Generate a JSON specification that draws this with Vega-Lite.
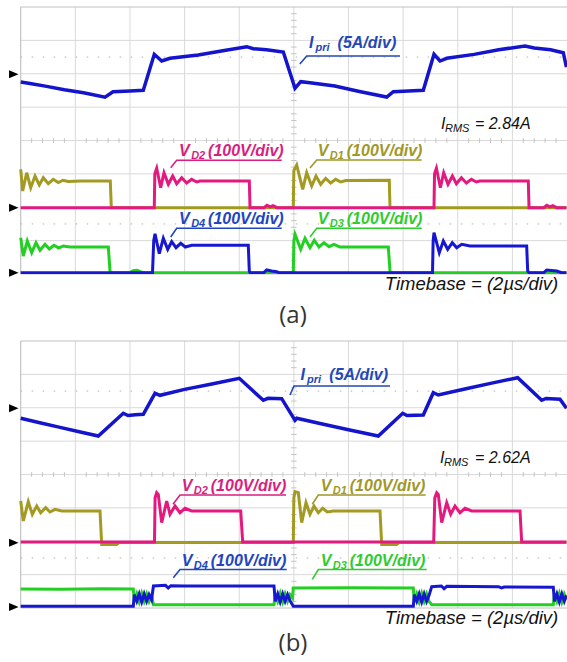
{
"$schema": "https://vega.github.io/schema/vega-lite/v6.json",
"padding": {"left": 0, "top": 6, "right": 0, "bottom": 0},
"autosize": {"type": "pad"},
"spacing": 67,
"bounds": "flush",
"background": "white",
"config": {"view": {"stroke": null}},
"datasets": {
"gx": [{"v":2},{"v":4},{"v":6},{"v":8},{"v":10},{"v":12},{"v":14},{"v":16},{"v":18}],
"gy": [{"v":1},{"v":2},{"v":3},{"v":4},{"v":5},{"v":6},{"v":7}],
"fx": [{"v":0}],
"fy": [{"v":0},{"v":8}],
"dt": [{"v":1.5},{"v":6.5}],
"tx": [{"v":0.4},{"v":0.8},{"v":1.2},{"v":1.6},{"v":2.4},{"v":2.8},{"v":3.2},{"v":3.6},{"v":4.4},{"v":4.8},{"v":5.2},{"v":5.6},{"v":6.4},{"v":6.8},{"v":7.2},{"v":7.6},{"v":8.4},{"v":8.8},{"v":9.2},{"v":9.6},{"v":10.4},{"v":10.8},{"v":11.2},{"v":11.6},{"v":12.4},{"v":12.8},{"v":13.2},{"v":13.6},{"v":14.4},{"v":14.8},{"v":15.2},{"v":15.6},{"v":16.4},{"v":16.8},{"v":17.2},{"v":17.6},{"v":18.4},{"v":18.8},{"v":19.2},{"v":19.6}],
"ty": [{"v":0.2},{"v":0.4},{"v":0.6},{"v":0.8},{"v":1.2},{"v":1.4},{"v":1.6},{"v":1.8},{"v":2.2},{"v":2.4},{"v":2.6},{"v":2.8},{"v":3.2},{"v":3.4},{"v":3.6},{"v":3.8},{"v":4.2},{"v":4.4},{"v":4.6},{"v":4.8},{"v":5.2},{"v":5.4},{"v":5.6},{"v":5.8},{"v":6.2},{"v":6.4},{"v":6.6},{"v":6.8},{"v":7.2},{"v":7.4},{"v":7.6},{"v":7.8}],
"ar": [{"p":"a","x":-0.253,"y":5.984},{"p":"a","x":-0.253,"y":1.987},{"p":"a","x":-0.253,"y":0.039},{"p":"b","x":-0.253,"y":5.984},{"p":"b","x":-0.253,"y":1.957},{"p":"b","x":-0.253,"y":0.03}],
"tr": [
{"p":"a","s":"Ipri","x":0,"y":5.75},{"p":"a","s":"Ipri","x":0.34,"y":5.71},{"p":"a","s":"Ipri","x":0.9,"y":5.63},{"p":"a","s":"Ipri","x":1.6,"y":5.52},{"p":"a","s":"Ipri","x":2.3,"y":5.43},{"p":"a","s":"Ipri","x":3.086,"y":5.3},{"p":"a","s":"Ipri","x":3.379,"y":5.46},{"p":"a","s":"Ipri","x":4.0,"y":5.48},{"p":"a","s":"Ipri","x":4.488,"y":5.504},{"p":"a","s":"Ipri","x":4.891,"y":6.583},{"p":"a","s":"Ipri","x":5.162,"y":6.382},{"p":"a","s":"Ipri","x":5.466,"y":6.463},{"p":"a","s":"Ipri","x":6.5,"y":6.56},{"p":"a","s":"Ipri","x":7.4,"y":6.69},{"p":"a","s":"Ipri","x":8.274,"y":6.811},{"p":"a","s":"Ipri","x":8.515,"y":6.751},{"p":"a","s":"Ipri","x":9.0,"y":6.72},{"p":"a","s":"Ipri","x":9.614,"y":6.652},{"p":"a","s":"Ipri","x":10.042,"y":5.564},{"p":"a","s":"Ipri","x":10.251,"y":5.762},{"p":"a","s":"Ipri","x":10.591,"y":5.732},{"p":"a","s":"Ipri","x":11.5,"y":5.63},{"p":"a","s":"Ipri","x":12.4,"y":5.47},{"p":"a","s":"Ipri","x":13.399,"y":5.303},{"p":"a","s":"Ipri","x":13.641,"y":5.462},{"p":"a","s":"Ipri","x":14.2,"y":5.48},{"p":"a","s":"Ipri","x":14.739,"y":5.504},{"p":"a","s":"Ipri","x":15.131,"y":6.583},{"p":"a","s":"Ipri","x":15.351,"y":6.382},{"p":"a","s":"Ipri","x":15.596,"y":6.463},{"p":"a","s":"Ipri","x":16.6,"y":6.58},{"p":"a","s":"Ipri","x":17.5,"y":6.72},{"p":"a","s":"Ipri","x":18.462,"y":6.831},{"p":"a","s":"Ipri","x":18.8,"y":6.77},{"p":"a","s":"Ipri","x":19.4,"y":6.72},{"p":"a","s":"Ipri","x":19.864,"y":6.631},{"p":"a","s":"Ipri","x":19.98,"y":6.2},
{"p":"a","s":"VD1","x":0,"y":3.137},{"p":"a","s":"VD1","x":0.073,"y":2.487},{"p":"a","s":"VD1","x":0.22,"y":3.035},{"p":"a","s":"VD1","x":0.366,"y":2.586},{"p":"a","s":"VD1","x":0.524,"y":2.936},{"p":"a","s":"VD1","x":0.681,"y":2.667},{"p":"a","s":"VD1","x":0.827,"y":2.885},{"p":"a","s":"VD1","x":1.01,"y":2.706},{"p":"a","s":"VD1","x":1.193,"y":2.837},{"p":"a","s":"VD1","x":1.377,"y":2.742},{"p":"a","s":"VD1","x":1.549,"y":2.81},{"p":"a","s":"VD1","x":1.732,"y":2.772},{"p":"a","s":"VD1","x":2.2,"y":2.79},{"p":"a","s":"VD1","x":3.28,"y":2.787},{"p":"a","s":"VD1","x":3.317,"y":1.987},{"p":"a","s":"VD1","x":9.98,"y":1.987},{"p":"a","s":"VD1","x":10.0,"y":3.1},{"p":"a","s":"VD1","x":10.104,"y":3.266},{"p":"a","s":"VD1","x":10.324,"y":2.538},{"p":"a","s":"VD1","x":10.47,"y":3.035},{"p":"a","s":"VD1","x":10.653,"y":2.637},{"p":"a","s":"VD1","x":10.811,"y":2.936},{"p":"a","s":"VD1","x":10.983,"y":2.688},{"p":"a","s":"VD1","x":11.166,"y":2.867},{"p":"a","s":"VD1","x":11.349,"y":2.727},{"p":"a","s":"VD1","x":11.532,"y":2.837},{"p":"a","s":"VD1","x":11.715,"y":2.757},{"p":"a","s":"VD1","x":11.9,"y":2.8},{"p":"a","s":"VD1","x":13.494,"y":2.807},{"p":"a","s":"VD1","x":13.52,"y":1.987},{"p":"a","s":"VD1","x":19.98,"y":1.987},
{"p":"a","s":"VD2","x":0,"y":1.987},{"p":"a","s":"VD2","x":4.89,"y":1.987},{"p":"a","s":"VD2","x":4.91,"y":3.0},{"p":"a","s":"VD2","x":4.979,"y":3.167},{"p":"a","s":"VD2","x":5.125,"y":2.586},{"p":"a","s":"VD2","x":5.246,"y":3.035},{"p":"a","s":"VD2","x":5.404,"y":2.688},{"p":"a","s":"VD2","x":5.565,"y":2.936},{"p":"a","s":"VD2","x":5.711,"y":2.706},{"p":"a","s":"VD2","x":5.894,"y":2.885},{"p":"a","s":"VD2","x":6.077,"y":2.727},{"p":"a","s":"VD2","x":6.26,"y":2.837},{"p":"a","s":"VD2","x":6.443,"y":2.757},{"p":"a","s":"VD2","x":6.564,"y":2.787},{"p":"a","s":"VD2","x":8.369,"y":2.787},{"p":"a","s":"VD2","x":8.395,"y":1.987},{"p":"a","s":"VD2","x":8.907,"y":1.987},{"p":"a","s":"VD2","x":9.017,"y":2.06},{"p":"a","s":"VD2","x":9.127,"y":2.01},{"p":"a","s":"VD2","x":9.237,"y":2.05},{"p":"a","s":"VD2","x":9.383,"y":1.987},{"p":"a","s":"VD2","x":15.131,"y":1.987},{"p":"a","s":"VD2","x":15.15,"y":3.0},{"p":"a","s":"VD2","x":15.219,"y":3.167},{"p":"a","s":"VD2","x":15.365,"y":2.586},{"p":"a","s":"VD2","x":15.486,"y":3.035},{"p":"a","s":"VD2","x":15.644,"y":2.688},{"p":"a","s":"VD2","x":15.805,"y":2.936},{"p":"a","s":"VD2","x":15.951,"y":2.706},{"p":"a","s":"VD2","x":16.134,"y":2.885},{"p":"a","s":"VD2","x":16.317,"y":2.727},{"p":"a","s":"VD2","x":16.5,"y":2.837},{"p":"a","s":"VD2","x":16.683,"y":2.757},{"p":"a","s":"VD2","x":16.804,"y":2.787},{"p":"a","s":"VD2","x":18.583,"y":2.787},{"p":"a","s":"VD2","x":18.61,"y":1.987},{"p":"a","s":"VD2","x":19.15,"y":1.987},{"p":"a","s":"VD2","x":19.26,"y":2.06},{"p":"a","s":"VD2","x":19.37,"y":2.01},{"p":"a","s":"VD2","x":19.48,"y":2.05},{"p":"a","s":"VD2","x":19.62,"y":1.987},{"p":"a","s":"VD2","x":19.98,"y":1.987},
{"p":"a","s":"VD3","x":0,"y":1.088},{"p":"a","s":"VD3","x":0.095,"y":0.539},{"p":"a","s":"VD3","x":0.242,"y":0.989},{"p":"a","s":"VD3","x":0.403,"y":0.638},{"p":"a","s":"VD3","x":0.56,"y":0.938},{"p":"a","s":"VD3","x":0.707,"y":0.71},{"p":"a","s":"VD3","x":0.89,"y":0.89},{"p":"a","s":"VD3","x":1.047,"y":0.749},{"p":"a","s":"VD3","x":1.219,"y":0.86},{"p":"a","s":"VD3","x":1.391,"y":0.779},{"p":"a","s":"VD3","x":1.56,"y":0.839},{"p":"a","s":"VD3","x":1.805,"y":0.809},{"p":"a","s":"VD3","x":3.207,"y":0.809},{"p":"a","s":"VD3","x":3.269,"y":0.09},{"p":"a","s":"VD3","x":3.306,"y":0.039},{"p":"a","s":"VD3","x":4.0,"y":0.039},{"p":"a","s":"VD3","x":4.111,"y":0.1},{"p":"a","s":"VD3","x":4.258,"y":0.11},{"p":"a","s":"VD3","x":4.404,"y":0.06},{"p":"a","s":"VD3","x":4.518,"y":0.039},{"p":"a","s":"VD3","x":9.98,"y":0.039},{"p":"a","s":"VD3","x":10.0,"y":1.0},{"p":"a","s":"VD3","x":10.042,"y":1.19},{"p":"a","s":"VD3","x":10.251,"y":0.74},{"p":"a","s":"VD3","x":10.408,"y":1.07},{"p":"a","s":"VD3","x":10.591,"y":0.788},{"p":"a","s":"VD3","x":10.749,"y":1.01},{"p":"a","s":"VD3","x":10.921,"y":0.809},{"p":"a","s":"VD3","x":11.104,"y":0.938},{"p":"a","s":"VD3","x":11.287,"y":0.818},{"p":"a","s":"VD3","x":11.47,"y":0.89},{"p":"a","s":"VD3","x":11.69,"y":0.809},{"p":"a","s":"VD3","x":13.458,"y":0.809},{"p":"a","s":"VD3","x":13.52,"y":0.09},{"p":"a","s":"VD3","x":13.557,"y":0.039},{"p":"a","s":"VD3","x":19.98,"y":0.039},
{"p":"a","s":"VD4","x":0,"y":0.039},{"p":"a","s":"VD4","x":4.825,"y":0.039},{"p":"a","s":"VD4","x":4.87,"y":1.0},{"p":"a","s":"VD4","x":4.917,"y":1.207},{"p":"a","s":"VD4","x":5.074,"y":0.608},{"p":"a","s":"VD4","x":5.221,"y":1.07},{"p":"a","s":"VD4","x":5.382,"y":0.74},{"p":"a","s":"VD4","x":5.528,"y":0.968},{"p":"a","s":"VD4","x":5.686,"y":0.788},{"p":"a","s":"VD4","x":5.858,"y":0.92},{"p":"a","s":"VD4","x":6.026,"y":0.809},{"p":"a","s":"VD4","x":6.26,"y":0.86},{"p":"a","s":"VD4","x":8.332,"y":0.86},{"p":"a","s":"VD4","x":8.369,"y":0.09},{"p":"a","s":"VD4","x":8.395,"y":0.039},{"p":"a","s":"VD4","x":8.9,"y":0.039},{"p":"a","s":"VD4","x":9.006,"y":0.12},{"p":"a","s":"VD4","x":9.189,"y":0.09},{"p":"a","s":"VD4","x":9.372,"y":0.07},{"p":"a","s":"VD4","x":9.45,"y":0.039},{"p":"a","s":"VD4","x":15.076,"y":0.039},{"p":"a","s":"VD4","x":15.1,"y":1.0},{"p":"a","s":"VD4","x":15.131,"y":1.237},{"p":"a","s":"VD4","x":15.325,"y":0.638},{"p":"a","s":"VD4","x":15.472,"y":0.989},{"p":"a","s":"VD4","x":15.632,"y":0.74},{"p":"a","s":"VD4","x":15.801,"y":0.938},{"p":"a","s":"VD4","x":15.962,"y":0.788},{"p":"a","s":"VD4","x":16.145,"y":0.89},{"p":"a","s":"VD4","x":16.449,"y":0.839},{"p":"a","s":"VD4","x":18.524,"y":0.839},{"p":"a","s":"VD4","x":18.561,"y":0.09},{"p":"a","s":"VD4","x":18.609,"y":0.039},{"p":"a","s":"VD4","x":19.15,"y":0.039},{"p":"a","s":"VD4","x":19.257,"y":0.12},{"p":"a","s":"VD4","x":19.623,"y":0.09},{"p":"a","s":"VD4","x":19.806,"y":0.039},{"p":"a","s":"VD4","x":19.98,"y":0.039},
{"p":"b","s":"Ipri","x":0,"y":5.684},{"p":"b","s":"Ipri","x":0.7,"y":5.55},{"p":"b","s":"Ipri","x":1.4,"y":5.42},{"p":"b","s":"Ipri","x":2.1,"y":5.29},{"p":"b","s":"Ipri","x":2.841,"y":5.154},{"p":"b","s":"Ipri","x":3.756,"y":5.834},{"p":"b","s":"Ipri","x":3.928,"y":5.768},{"p":"b","s":"Ipri","x":4.2,"y":5.79},{"p":"b","s":"Ipri","x":4.488,"y":5.804},{"p":"b","s":"Ipri","x":4.917,"y":6.433},{"p":"b","s":"Ipri","x":5.1,"y":6.373},{"p":"b","s":"Ipri","x":6.0,"y":6.55},{"p":"b","s":"Ipri","x":7.0,"y":6.71},{"p":"b","s":"Ipri","x":8.003,"y":6.882},{"p":"b","s":"Ipri","x":8.882,"y":6.223},{"p":"b","s":"Ipri","x":9.054,"y":6.283},{"p":"b","s":"Ipri","x":9.555,"y":6.271},{"p":"b","s":"Ipri","x":10.042,"y":5.624},{"p":"b","s":"Ipri","x":10.104,"y":5.684},{"p":"b","s":"Ipri","x":11.0,"y":5.52},{"p":"b","s":"Ipri","x":12.0,"y":5.34},{"p":"b","s":"Ipri","x":13.092,"y":5.154},{"p":"b","s":"Ipri","x":13.985,"y":5.834},{"p":"b","s":"Ipri","x":14.142,"y":5.768},{"p":"b","s":"Ipri","x":14.739,"y":5.783},{"p":"b","s":"Ipri","x":15.105,"y":6.451},{"p":"b","s":"Ipri","x":15.288,"y":6.382},{"p":"b","s":"Ipri","x":16.3,"y":6.57},{"p":"b","s":"Ipri","x":17.2,"y":6.73},{"p":"b","s":"Ipri","x":18.195,"y":6.9},{"p":"b","s":"Ipri","x":19.074,"y":6.223},{"p":"b","s":"Ipri","x":19.231,"y":6.277},{"p":"b","s":"Ipri","x":19.744,"y":6.253},{"p":"b","s":"Ipri","x":19.98,"y":5.984},
{"p":"b","s":"VD1","x":0,"y":3.206},{"p":"b","s":"VD1","x":0.095,"y":2.607},{"p":"b","s":"VD1","x":0.278,"y":3.185},{"p":"b","s":"VD1","x":0.425,"y":2.807},{"p":"b","s":"VD1","x":0.586,"y":3.056},{"p":"b","s":"VD1","x":0.732,"y":2.855},{"p":"b","s":"VD1","x":0.915,"y":3.005},{"p":"b","s":"VD1","x":1.073,"y":2.876},{"p":"b","s":"VD1","x":1.256,"y":2.957},{"p":"b","s":"VD1","x":1.501,"y":2.906},{"p":"b","s":"VD1","x":2.903,"y":2.906},{"p":"b","s":"VD1","x":2.965,"y":1.9},{"p":"b","s":"VD1","x":3.515,"y":1.9},{"p":"b","s":"VD1","x":3.6,"y":1.96},{"p":"b","s":"VD1","x":9.98,"y":1.96},{"p":"b","s":"VD1","x":10.0,"y":3.3},{"p":"b","s":"VD1","x":10.042,"y":3.485},{"p":"b","s":"VD1","x":10.163,"y":3.455},{"p":"b","s":"VD1","x":10.287,"y":2.556},{"p":"b","s":"VD1","x":10.445,"y":3.155},{"p":"b","s":"VD1","x":10.591,"y":2.807},{"p":"b","s":"VD1","x":10.738,"y":3.056},{"p":"b","s":"VD1","x":10.895,"y":2.855},{"p":"b","s":"VD1","x":11.056,"y":2.987},{"p":"b","s":"VD1","x":11.225,"y":2.876},{"p":"b","s":"VD1","x":11.444,"y":2.906},{"p":"b","s":"VD1","x":13.154,"y":2.906},{"p":"b","s":"VD1","x":13.216,"y":1.9},{"p":"b","s":"VD1","x":13.765,"y":1.9},{"p":"b","s":"VD1","x":13.85,"y":1.96},{"p":"b","s":"VD1","x":19.98,"y":1.96},
{"p":"b","s":"VD2","x":0,"y":1.978},{"p":"b","s":"VD2","x":4.898,"y":1.978},{"p":"b","s":"VD2","x":4.92,"y":3.3},{"p":"b","s":"VD2","x":4.979,"y":3.455},{"p":"b","s":"VD2","x":5.037,"y":3.406},{"p":"b","s":"VD2","x":5.162,"y":2.556},{"p":"b","s":"VD2","x":5.345,"y":3.206},{"p":"b","s":"VD2","x":5.466,"y":2.807},{"p":"b","s":"VD2","x":5.649,"y":3.056},{"p":"b","s":"VD2","x":5.832,"y":2.855},{"p":"b","s":"VD2","x":6.015,"y":2.987},{"p":"b","s":"VD2","x":6.26,"y":2.906},{"p":"b","s":"VD2","x":8.054,"y":2.906},{"p":"b","s":"VD2","x":8.127,"y":1.978},{"p":"b","s":"VD2","x":15.12,"y":1.978},{"p":"b","s":"VD2","x":15.16,"y":3.3},{"p":"b","s":"VD2","x":15.23,"y":3.455},{"p":"b","s":"VD2","x":15.288,"y":3.406},{"p":"b","s":"VD2","x":15.413,"y":2.556},{"p":"b","s":"VD2","x":15.596,"y":3.155},{"p":"b","s":"VD2","x":15.742,"y":2.807},{"p":"b","s":"VD2","x":15.9,"y":3.056},{"p":"b","s":"VD2","x":16.083,"y":2.855},{"p":"b","s":"VD2","x":16.266,"y":2.987},{"p":"b","s":"VD2","x":16.511,"y":2.906},{"p":"b","s":"VD2","x":18.28,"y":2.906},{"p":"b","s":"VD2","x":18.341,"y":1.978},{"p":"b","s":"VD2","x":19.98,"y":1.978},
{"p":"b","s":"VD3","x":0,"y":0.57},{"p":"b","s":"VD3","x":1.5,"y":0.56},{"p":"b","s":"VD3","x":3.0,"y":0.58},{"p":"b","s":"VD3","x":4.122,"y":0.57},{"p":"b","s":"VD3","x":4.16,"y":0.2},{"p":"b","s":"VD3","x":4.25,"y":0.42},{"p":"b","s":"VD3","x":4.34,"y":0.18},{"p":"b","s":"VD3","x":4.43,"y":0.44},{"p":"b","s":"VD3","x":4.52,"y":0.2},{"p":"b","s":"VD3","x":4.61,"y":0.42},{"p":"b","s":"VD3","x":4.7,"y":0.2},{"p":"b","s":"VD3","x":4.79,"y":0.38},{"p":"b","s":"VD3","x":4.86,"y":0.1},{"p":"b","s":"VD3","x":9.273,"y":0.1},{"p":"b","s":"VD3","x":9.32,"y":0.42},{"p":"b","s":"VD3","x":9.41,"y":0.2},{"p":"b","s":"VD3","x":9.5,"y":0.44},{"p":"b","s":"VD3","x":9.59,"y":0.18},{"p":"b","s":"VD3","x":9.68,"y":0.42},{"p":"b","s":"VD3","x":9.77,"y":0.2},{"p":"b","s":"VD3","x":9.86,"y":0.4},{"p":"b","s":"VD3","x":9.95,"y":0.3},{"p":"b","s":"VD3","x":9.98,"y":0.6},{"p":"b","s":"VD3","x":12.0,"y":0.61},{"p":"b","s":"VD3","x":14.373,"y":0.6},{"p":"b","s":"VD3","x":14.41,"y":0.2},{"p":"b","s":"VD3","x":14.5,"y":0.42},{"p":"b","s":"VD3","x":14.59,"y":0.18},{"p":"b","s":"VD3","x":14.68,"y":0.44},{"p":"b","s":"VD3","x":14.77,"y":0.2},{"p":"b","s":"VD3","x":14.86,"y":0.42},{"p":"b","s":"VD3","x":14.95,"y":0.2},{"p":"b","s":"VD3","x":15.047,"y":0.1},{"p":"b","s":"VD3","x":19.498,"y":0.1},{"p":"b","s":"VD3","x":19.54,"y":0.42},{"p":"b","s":"VD3","x":19.63,"y":0.2},{"p":"b","s":"VD3","x":19.72,"y":0.44},{"p":"b","s":"VD3","x":19.81,"y":0.18},{"p":"b","s":"VD3","x":19.9,"y":0.42},{"p":"b","s":"VD3","x":19.98,"y":0.25},
{"p":"b","s":"VD4","x":0,"y":0.05},{"p":"b","s":"VD4","x":4.122,"y":0.05},{"p":"b","s":"VD4","x":4.16,"y":0.4},{"p":"b","s":"VD4","x":4.25,"y":0.2},{"p":"b","s":"VD4","x":4.34,"y":0.42},{"p":"b","s":"VD4","x":4.43,"y":0.18},{"p":"b","s":"VD4","x":4.52,"y":0.42},{"p":"b","s":"VD4","x":4.61,"y":0.2},{"p":"b","s":"VD4","x":4.7,"y":0.4},{"p":"b","s":"VD4","x":4.79,"y":0.25},{"p":"b","s":"VD4","x":4.86,"y":0.66},{"p":"b","s":"VD4","x":5.3,"y":0.68},{"p":"b","s":"VD4","x":5.4,"y":0.6},{"p":"b","s":"VD4","x":5.5,"y":0.67},{"p":"b","s":"VD4","x":6.0,"y":0.66},{"p":"b","s":"VD4","x":8.5,"y":0.66},{"p":"b","s":"VD4","x":9.273,"y":0.66},{"p":"b","s":"VD4","x":9.32,"y":0.2},{"p":"b","s":"VD4","x":9.41,"y":0.42},{"p":"b","s":"VD4","x":9.5,"y":0.18},{"p":"b","s":"VD4","x":9.59,"y":0.42},{"p":"b","s":"VD4","x":9.68,"y":0.2},{"p":"b","s":"VD4","x":9.77,"y":0.4},{"p":"b","s":"VD4","x":9.86,"y":0.22},{"p":"b","s":"VD4","x":9.98,"y":0.05},{"p":"b","s":"VD4","x":14.373,"y":0.05},{"p":"b","s":"VD4","x":14.41,"y":0.4},{"p":"b","s":"VD4","x":14.5,"y":0.2},{"p":"b","s":"VD4","x":14.59,"y":0.42},{"p":"b","s":"VD4","x":14.68,"y":0.18},{"p":"b","s":"VD4","x":14.77,"y":0.42},{"p":"b","s":"VD4","x":14.86,"y":0.2},{"p":"b","s":"VD4","x":14.95,"y":0.38},{"p":"b","s":"VD4","x":15.047,"y":0.64},{"p":"b","s":"VD4","x":15.4,"y":0.66},{"p":"b","s":"VD4","x":15.5,"y":0.58},{"p":"b","s":"VD4","x":15.6,"y":0.65},{"p":"b","s":"VD4","x":17.5,"y":0.64},{"p":"b","s":"VD4","x":17.6,"y":0.6},{"p":"b","s":"VD4","x":17.7,"y":0.63},{"p":"b","s":"VD4","x":19.498,"y":0.62},{"p":"b","s":"VD4","x":19.54,"y":0.2},{"p":"b","s":"VD4","x":19.63,"y":0.42},{"p":"b","s":"VD4","x":19.72,"y":0.18},{"p":"b","s":"VD4","x":19.81,"y":0.42},{"p":"b","s":"VD4","x":19.9,"y":0.2},{"p":"b","s":"VD4","x":19.98,"y":0.38}
],
"ld": [
{"p":"a","s":"Ipri_l","id":"a1","x":10.22,"y":6.29},{"p":"a","s":"Ipri_l","id":"a1","x":10.47,"y":6.532},{"p":"a","s":"Ipri_l","id":"a1","x":13.886,"y":6.532},
{"p":"a","s":"VD2_l","id":"a2","x":5.491,"y":3.185},{"p":"a","s":"VD2_l","id":"a2","x":5.711,"y":3.407},{"p":"a","s":"VD2_l","id":"a2","x":9.555,"y":3.407},
{"p":"a","s":"VD1_l","id":"a3","x":10.591,"y":3.176},{"p":"a","s":"VD1_l","id":"a3","x":10.837,"y":3.416},{"p":"a","s":"VD1_l","id":"a3","x":14.681,"y":3.416},
{"p":"a","s":"VD4_l","id":"a4","x":5.491,"y":1.109},{"p":"a","s":"VD4_l","id":"a4","x":5.711,"y":1.369},{"p":"a","s":"VD4_l","id":"a4","x":9.555,"y":1.369},
{"p":"a","s":"VD3_l","id":"a5","x":10.591,"y":1.109},{"p":"a","s":"VD3_l","id":"a5","x":10.837,"y":1.369},{"p":"a","s":"VD3_l","id":"a5","x":14.681,"y":1.369},
{"p":"b","s":"Ipri_l","id":"b1","x":9.858,"y":6.382},{"p":"b","s":"Ipri_l","id":"b1","x":10.005,"y":6.652},{"p":"b","s":"Ipri_l","id":"b1","x":13.52,"y":6.652},
{"p":"b","s":"VD2_l","id":"b2","x":5.575,"y":3.107},{"p":"b","s":"VD2_l","id":"b2","x":5.832,"y":3.386},{"p":"b","s":"VD2_l","id":"b2","x":9.712,"y":3.386},
{"p":"b","s":"VD1_l","id":"b3","x":10.675,"y":3.107},{"p":"b","s":"VD1_l","id":"b3","x":10.895,"y":3.386},{"p":"b","s":"VD1_l","id":"b3","x":14.827,"y":3.386},
{"p":"b","s":"VD4_l","id":"b4","x":5.587,"y":0.908},{"p":"b","s":"VD4_l","id":"b4","x":5.832,"y":1.154},{"p":"b","s":"VD4_l","id":"b4","x":9.738,"y":1.154},
{"p":"b","s":"VD3_l","id":"b5","x":10.675,"y":0.86},{"p":"b","s":"VD3_l","id":"b5","x":10.895,"y":1.154},{"p":"b","s":"VD3_l","id":"b5","x":14.864,"y":1.154}
],
"lb": [
{"p":"a","s":"Ipri_l","k":"main","x":10.555,"y":6.772,"t":"I"},{"p":"a","s":"Ipri_l","k":"sub","x":10.792,"y":6.682,"t":"pri"},{"p":"a","s":"Ipri_l","k":"rest","x":11.6,"y":6.772,"t":"(5A/div)"},
{"p":"a","s":"VD2_l","k":"main","x":5.795,"y":3.536,"t":"V"},{"p":"a","s":"VD2_l","k":"sub","x":6.24,"y":3.446,"t":"D2"},{"p":"a","s":"VD2_l","k":"rest","x":6.86,"y":3.536,"t":"(100V/div)"},
{"p":"a","s":"VD1_l","k":"main","x":10.873,"y":3.536,"t":"V"},{"p":"a","s":"VD1_l","k":"sub","x":11.318,"y":3.446,"t":"D1"},{"p":"a","s":"VD1_l","k":"rest","x":11.938,"y":3.536,"t":"(100V/div)"},
{"p":"a","s":"VD4_l","k":"main","x":5.795,"y":1.498,"t":"V"},{"p":"a","s":"VD4_l","k":"sub","x":6.24,"y":1.408,"t":"D4"},{"p":"a","s":"VD4_l","k":"rest","x":6.86,"y":1.498,"t":"(100V/div)"},
{"p":"a","s":"VD3_l","k":"main","x":10.873,"y":1.498,"t":"V"},{"p":"a","s":"VD3_l","k":"sub","x":11.318,"y":1.408,"t":"D3"},{"p":"a","s":"VD3_l","k":"rest","x":11.938,"y":1.498,"t":"(100V/div)"},
{"p":"b","s":"Ipri_l","k":"main","x":10.243,"y":6.831,"t":"I"},{"p":"b","s":"Ipri_l","k":"sub","x":10.481,"y":6.742,"t":"pri"},{"p":"b","s":"Ipri_l","k":"rest","x":11.3,"y":6.831,"t":"(5A/div)"},
{"p":"b","s":"VD2_l","k":"main","x":5.894,"y":3.506,"t":"V"},{"p":"b","s":"VD2_l","k":"sub","x":6.339,"y":3.416,"t":"D2"},{"p":"b","s":"VD2_l","k":"rest","x":6.958,"y":3.506,"t":"(100V/div)"},
{"p":"b","s":"VD1_l","k":"main","x":10.983,"y":3.506,"t":"V"},{"p":"b","s":"VD1_l","k":"sub","x":11.428,"y":3.416,"t":"D1"},{"p":"b","s":"VD1_l","k":"rest","x":12.047,"y":3.506,"t":"(100V/div)"},
{"p":"b","s":"VD4_l","k":"main","x":5.894,"y":1.258,"t":"V"},{"p":"b","s":"VD4_l","k":"sub","x":6.339,"y":1.169,"t":"D4"},{"p":"b","s":"VD4_l","k":"rest","x":6.958,"y":1.258,"t":"(100V/div)"},
{"p":"b","s":"VD3_l","k":"main","x":10.983,"y":1.258,"t":"V"},{"p":"b","s":"VD3_l","k":"sub","x":11.428,"y":1.169,"t":"D3"},{"p":"b","s":"VD3_l","k":"rest","x":12.047,"y":1.258,"t":"(100V/div)"},
{"p":"a","s":"k","k":"imain","x":15.387,"y":4.336,"t":"I"},{"p":"a","s":"k","k":"isub","x":15.534,"y":4.246,"t":"RMS"},{"p":"a","s":"k","k":"irest","x":16.632,"y":4.336,"t":"= 2.84A"},
{"p":"b","s":"k","k":"imain","x":15.35,"y":4.354,"t":"I"},{"p":"b","s":"k","k":"isub","x":15.497,"y":4.264,"t":"RMS"},{"p":"b","s":"k","k":"irest","x":16.632,"y":4.354,"t":"= 2.62A"},
{"p":"a","s":"k","k":"time","x":13.33,"y":-0.494,"t":"Timebase = (2µs/div)"},
{"p":"b","s":"k","k":"time","x":13.33,"y":-0.494,"t":"Timebase = (2µs/div)"},
{"p":"a","s":"k","k":"cap","x":9.969,"y":-1.468,"t":"(a)"},
{"p":"b","s":"k","k":"cap","x":9.969,"y":-1.29,"t":"(b)"}
]
},
"vconcat": [
{
"width": 567, "height": 267,
"layer": [
{"data": {"name": "gx"}, "mark": {"type": "rule", "color": "#d9d9d9", "strokeWidth": 1},
 "encoding": {"x": {"field": "v", "type": "quantitative", "scale": {"domain": [-0.758, 20], "nice": false, "zero": false}, "axis": null}, "y": {"datum": 0, "type": "quantitative", "scale": {"domain": [0, 8], "nice": false, "zero": false}, "axis": null}, "y2": {"datum": 8}}},
{"data": {"name": "gy"}, "mark": {"type": "rule", "color": "#d9d9d9", "strokeWidth": 1},
 "encoding": {"y": {"field": "v", "type": "quantitative", "scale": {"domain": [0, 8], "nice": false, "zero": false}, "axis": null}, "x": {"datum": 0, "type": "quantitative", "scale": {"domain": [-0.758, 20], "nice": false, "zero": false}, "axis": null}, "x2": {"datum": 20}}},
{"data": {"name": "dt"}, "mark": {"type": "rule", "color": "#b0b0b0", "strokeWidth": 1, "strokeDash": [1.5, 9.5]},
 "encoding": {"y": {"field": "v", "type": "quantitative", "scale": {"domain": [0, 8], "nice": false, "zero": false}, "axis": null}, "x": {"datum": 0, "type": "quantitative", "scale": {"domain": [-0.758, 20], "nice": false, "zero": false}, "axis": null}, "x2": {"datum": 20}}},
{"data": {"name": "tx"}, "mark": {"type": "rule", "color": "#c4c4c4", "strokeWidth": 1},
 "encoding": {"x": {"field": "v", "type": "quantitative", "scale": {"domain": [-0.758, 20], "nice": false, "zero": false}, "axis": null}, "y": {"datum": 3.93, "type": "quantitative", "scale": {"domain": [0, 8], "nice": false, "zero": false}, "axis": null}, "y2": {"datum": 4.07}}},
{"data": {"name": "ty"}, "mark": {"type": "rule", "color": "#c4c4c4", "strokeWidth": 1},
 "encoding": {"y": {"field": "v", "type": "quantitative", "scale": {"domain": [0, 8], "nice": false, "zero": false}, "axis": null}, "x": {"datum": 9.9, "type": "quantitative", "scale": {"domain": [-0.758, 20], "nice": false, "zero": false}, "axis": null}, "x2": {"datum": 10.1}}},
{"data": {"name": "fx"}, "mark": {"type": "rule", "color": "#c2c2c2", "strokeWidth": 1.2},
 "encoding": {"x": {"field": "v", "type": "quantitative", "scale": {"domain": [-0.758, 20], "nice": false, "zero": false}, "axis": null}, "y": {"datum": 0, "type": "quantitative", "scale": {"domain": [0, 8], "nice": false, "zero": false}, "axis": null}, "y2": {"datum": 8}}},
{"data": {"name": "fy"}, "mark": {"type": "rule", "color": "#c2c2c2", "strokeWidth": 1.2},
 "encoding": {"y": {"field": "v", "type": "quantitative", "scale": {"domain": [0, 8], "nice": false, "zero": false}, "axis": null}, "x": {"datum": 0, "type": "quantitative", "scale": {"domain": [-0.758, 20], "nice": false, "zero": false}, "axis": null}, "x2": {"datum": 20}}},
{"data": {"name": "ar"}, "transform": [{"filter": "datum.p == 'a'"}], "mark": {"type": "point", "shape": "M-1,-0.85L1,0L-1,0.85Z", "filled": true, "color": "#000000", "size": 90, "opacity": 1},
 "encoding": {"x": {"field": "x", "type": "quantitative", "scale": {"domain": [-0.758, 20], "nice": false, "zero": false}, "axis": null}, "y": {"field": "y", "type": "quantitative", "scale": {"domain": [0, 8], "nice": false, "zero": false}, "axis": null}}},
{"data": {"name": "tr"}, "transform": [{"filter": "datum.p == 'a' && datum.s == 'VD1'"}], "mark": {"type": "line", "strokeWidth": 3, "clip": true},
 "encoding": {"x": {"field": "x", "type": "quantitative", "scale": {"domain": [-0.758, 20], "nice": false, "zero": false}, "axis": null}, "y": {"field": "y", "type": "quantitative", "scale": {"domain": [0, 8], "nice": false, "zero": false}, "axis": null}, "color": {"field": "s", "type": "nominal", "scale": {"domain": ["Ipri","VD1","VD2","VD3","VD4","Ipri_l","VD1_l","VD2_l","VD3_l","VD4_l","k"], "range": ["#1414cc","#a39a22","#e3197f","#22cf22","#1717d2","#2447b5","#a09828","#d81f80","#2fcb2f","#2145c0","#111111"]}, "legend": null}}},
{"data": {"name": "tr"}, "transform": [{"filter": "datum.p == 'a' && datum.s == 'VD2'"}], "mark": {"type": "line", "strokeWidth": 3, "clip": true},
 "encoding": {"x": {"field": "x", "type": "quantitative", "scale": {"domain": [-0.758, 20], "nice": false, "zero": false}, "axis": null}, "y": {"field": "y", "type": "quantitative", "scale": {"domain": [0, 8], "nice": false, "zero": false}, "axis": null}, "color": {"field": "s", "type": "nominal", "scale": {"domain": ["Ipri","VD1","VD2","VD3","VD4","Ipri_l","VD1_l","VD2_l","VD3_l","VD4_l","k"], "range": ["#1414cc","#a39a22","#e3197f","#22cf22","#1717d2","#2447b5","#a09828","#d81f80","#2fcb2f","#2145c0","#111111"]}, "legend": null}}},
{"data": {"name": "tr"}, "transform": [{"filter": "datum.p == 'a' && datum.s == 'VD3'"}], "mark": {"type": "line", "strokeWidth": 3, "clip": true},
 "encoding": {"x": {"field": "x", "type": "quantitative", "scale": {"domain": [-0.758, 20], "nice": false, "zero": false}, "axis": null}, "y": {"field": "y", "type": "quantitative", "scale": {"domain": [0, 8], "nice": false, "zero": false}, "axis": null}, "color": {"field": "s", "type": "nominal", "scale": {"domain": ["Ipri","VD1","VD2","VD3","VD4","Ipri_l","VD1_l","VD2_l","VD3_l","VD4_l","k"], "range": ["#1414cc","#a39a22","#e3197f","#22cf22","#1717d2","#2447b5","#a09828","#d81f80","#2fcb2f","#2145c0","#111111"]}, "legend": null}}},
{"data": {"name": "tr"}, "transform": [{"filter": "datum.p == 'a' && datum.s == 'VD4'"}], "mark": {"type": "line", "strokeWidth": 3, "clip": true},
 "encoding": {"x": {"field": "x", "type": "quantitative", "scale": {"domain": [-0.758, 20], "nice": false, "zero": false}, "axis": null}, "y": {"field": "y", "type": "quantitative", "scale": {"domain": [0, 8], "nice": false, "zero": false}, "axis": null}, "color": {"field": "s", "type": "nominal", "scale": {"domain": ["Ipri","VD1","VD2","VD3","VD4","Ipri_l","VD1_l","VD2_l","VD3_l","VD4_l","k"], "range": ["#1414cc","#a39a22","#e3197f","#22cf22","#1717d2","#2447b5","#a09828","#d81f80","#2fcb2f","#2145c0","#111111"]}, "legend": null}}},
{"data": {"name": "tr"}, "transform": [{"filter": "datum.p == 'a' && datum.s == 'Ipri'"}], "mark": {"type": "line", "strokeWidth": 3.5, "clip": true},
 "encoding": {"x": {"field": "x", "type": "quantitative", "scale": {"domain": [-0.758, 20], "nice": false, "zero": false}, "axis": null}, "y": {"field": "y", "type": "quantitative", "scale": {"domain": [0, 8], "nice": false, "zero": false}, "axis": null}, "color": {"field": "s", "type": "nominal", "scale": {"domain": ["Ipri","VD1","VD2","VD3","VD4","Ipri_l","VD1_l","VD2_l","VD3_l","VD4_l","k"], "range": ["#1414cc","#a39a22","#e3197f","#22cf22","#1717d2","#2447b5","#a09828","#d81f80","#2fcb2f","#2145c0","#111111"]}, "legend": null}}},
{"data": {"name": "ld"}, "transform": [{"filter": "datum.p == 'a'"}], "mark": {"type": "line", "strokeWidth": 1.6},
 "encoding": {"x": {"field": "x", "type": "quantitative", "scale": {"domain": [-0.758, 20], "nice": false, "zero": false}, "axis": null}, "y": {"field": "y", "type": "quantitative", "scale": {"domain": [0, 8], "nice": false, "zero": false}, "axis": null}, "detail": {"field": "id"}, "color": {"field": "s", "type": "nominal", "scale": {"domain": ["Ipri","VD1","VD2","VD3","VD4","Ipri_l","VD1_l","VD2_l","VD3_l","VD4_l","k"], "range": ["#1414cc","#a39a22","#e3197f","#22cf22","#1717d2","#2447b5","#a09828","#d81f80","#2fcb2f","#2145c0","#111111"]}, "legend": null}}},
{"data": {"name": "lb"}, "transform": [{"filter": "datum.p == 'a' && (datum.k == 'main' || datum.k == 'rest')"}], "mark": {"type": "text", "align": "left", "baseline": "alphabetic", "font": "Liberation Sans", "fontSize": 16, "fontWeight": "bold", "fontStyle": "italic"},
 "encoding": {"x": {"field": "x", "type": "quantitative", "scale": {"domain": [-0.758, 20], "nice": false, "zero": false}, "axis": null}, "y": {"field": "y", "type": "quantitative", "scale": {"domain": [0, 8], "nice": false, "zero": false}, "axis": null}, "text": {"field": "t"}, "color": {"field": "s", "type": "nominal", "scale": {"domain": ["Ipri","VD1","VD2","VD3","VD4","Ipri_l","VD1_l","VD2_l","VD3_l","VD4_l","k"], "range": ["#1414cc","#a39a22","#e3197f","#22cf22","#1717d2","#2447b5","#a09828","#d81f80","#2fcb2f","#2145c0","#111111"]}, "legend": null}}},
{"data": {"name": "lb"}, "transform": [{"filter": "datum.p == 'a' && datum.k == 'sub'"}], "mark": {"type": "text", "align": "left", "baseline": "alphabetic", "font": "Liberation Sans", "fontSize": 11, "fontWeight": "bold", "fontStyle": "italic"},
 "encoding": {"x": {"field": "x", "type": "quantitative", "scale": {"domain": [-0.758, 20], "nice": false, "zero": false}, "axis": null}, "y": {"field": "y", "type": "quantitative", "scale": {"domain": [0, 8], "nice": false, "zero": false}, "axis": null}, "text": {"field": "t"}, "color": {"field": "s", "type": "nominal", "scale": {"domain": ["Ipri","VD1","VD2","VD3","VD4","Ipri_l","VD1_l","VD2_l","VD3_l","VD4_l","k"], "range": ["#1414cc","#a39a22","#e3197f","#22cf22","#1717d2","#2447b5","#a09828","#d81f80","#2fcb2f","#2145c0","#111111"]}, "legend": null}}},
{"data": {"name": "lb"}, "transform": [{"filter": "datum.p == 'a' && (datum.k == 'imain' || datum.k == 'irest')"}], "mark": {"type": "text", "align": "left", "baseline": "alphabetic", "font": "Liberation Sans", "fontSize": 16, "fontStyle": "italic", "color": "#111111"},
 "encoding": {"x": {"field": "x", "type": "quantitative", "scale": {"domain": [-0.758, 20], "nice": false, "zero": false}, "axis": null}, "y": {"field": "y", "type": "quantitative", "scale": {"domain": [0, 8], "nice": false, "zero": false}, "axis": null}, "text": {"field": "t"}}},
{"data": {"name": "lb"}, "transform": [{"filter": "datum.p == 'a' && datum.k == 'isub'"}], "mark": {"type": "text", "align": "left", "baseline": "alphabetic", "font": "Liberation Sans", "fontSize": 11, "fontStyle": "italic", "color": "#111111"},
 "encoding": {"x": {"field": "x", "type": "quantitative", "scale": {"domain": [-0.758, 20], "nice": false, "zero": false}, "axis": null}, "y": {"field": "y", "type": "quantitative", "scale": {"domain": [0, 8], "nice": false, "zero": false}, "axis": null}, "text": {"field": "t"}}},
{"data": {"name": "lb"}, "transform": [{"filter": "datum.p == 'a' && datum.k == 'time'"}], "mark": {"type": "text", "align": "left", "baseline": "alphabetic", "font": "Liberation Sans", "fontSize": 18.5, "fontStyle": "italic", "color": "#111111"},
 "encoding": {"x": {"field": "x", "type": "quantitative", "scale": {"domain": [-0.758, 20], "nice": false, "zero": false}, "axis": null}, "y": {"field": "y", "type": "quantitative", "scale": {"domain": [0, 8], "nice": false, "zero": false}, "axis": null}, "text": {"field": "t"}}},
{"data": {"name": "lb"}, "transform": [{"filter": "datum.p == 'a' && datum.k == 'cap'"}], "mark": {"type": "text", "align": "center", "baseline": "alphabetic", "font": "Open Sans", "fontSize": 24, "color": "#333333"},
 "encoding": {"x": {"field": "x", "type": "quantitative", "scale": {"domain": [-0.758, 20], "nice": false, "zero": false}, "axis": null}, "y": {"field": "y", "type": "quantitative", "scale": {"domain": [0, 8], "nice": false, "zero": false}, "axis": null}, "text": {"field": "t"}}}
]
},
{
"width": 567, "height": 267,
"layer": [
{"data": {"name": "gx"}, "mark": {"type": "rule", "color": "#d9d9d9", "strokeWidth": 1},
 "encoding": {"x": {"field": "v", "type": "quantitative", "scale": {"domain": [-0.758, 20], "nice": false, "zero": false}, "axis": null}, "y": {"datum": 0, "type": "quantitative", "scale": {"domain": [0, 8], "nice": false, "zero": false}, "axis": null}, "y2": {"datum": 8}}},
{"data": {"name": "gy"}, "mark": {"type": "rule", "color": "#d9d9d9", "strokeWidth": 1},
 "encoding": {"y": {"field": "v", "type": "quantitative", "scale": {"domain": [0, 8], "nice": false, "zero": false}, "axis": null}, "x": {"datum": 0, "type": "quantitative", "scale": {"domain": [-0.758, 20], "nice": false, "zero": false}, "axis": null}, "x2": {"datum": 20}}},
{"data": {"name": "dt"}, "mark": {"type": "rule", "color": "#b0b0b0", "strokeWidth": 1, "strokeDash": [1.5, 9.5]},
 "encoding": {"y": {"field": "v", "type": "quantitative", "scale": {"domain": [0, 8], "nice": false, "zero": false}, "axis": null}, "x": {"datum": 0, "type": "quantitative", "scale": {"domain": [-0.758, 20], "nice": false, "zero": false}, "axis": null}, "x2": {"datum": 20}}},
{"data": {"name": "tx"}, "mark": {"type": "rule", "color": "#c4c4c4", "strokeWidth": 1},
 "encoding": {"x": {"field": "v", "type": "quantitative", "scale": {"domain": [-0.758, 20], "nice": false, "zero": false}, "axis": null}, "y": {"datum": 3.93, "type": "quantitative", "scale": {"domain": [0, 8], "nice": false, "zero": false}, "axis": null}, "y2": {"datum": 4.07}}},
{"data": {"name": "ty"}, "mark": {"type": "rule", "color": "#c4c4c4", "strokeWidth": 1},
 "encoding": {"y": {"field": "v", "type": "quantitative", "scale": {"domain": [0, 8], "nice": false, "zero": false}, "axis": null}, "x": {"datum": 9.9, "type": "quantitative", "scale": {"domain": [-0.758, 20], "nice": false, "zero": false}, "axis": null}, "x2": {"datum": 10.1}}},
{"data": {"name": "fx"}, "mark": {"type": "rule", "color": "#c2c2c2", "strokeWidth": 1.2},
 "encoding": {"x": {"field": "v", "type": "quantitative", "scale": {"domain": [-0.758, 20], "nice": false, "zero": false}, "axis": null}, "y": {"datum": 0, "type": "quantitative", "scale": {"domain": [0, 8], "nice": false, "zero": false}, "axis": null}, "y2": {"datum": 8}}},
{"data": {"name": "fy"}, "mark": {"type": "rule", "color": "#c2c2c2", "strokeWidth": 1.2},
 "encoding": {"y": {"field": "v", "type": "quantitative", "scale": {"domain": [0, 8], "nice": false, "zero": false}, "axis": null}, "x": {"datum": 0, "type": "quantitative", "scale": {"domain": [-0.758, 20], "nice": false, "zero": false}, "axis": null}, "x2": {"datum": 20}}},
{"data": {"name": "ar"}, "transform": [{"filter": "datum.p == 'b'"}], "mark": {"type": "point", "shape": "M-1,-0.85L1,0L-1,0.85Z", "filled": true, "color": "#000000", "size": 90, "opacity": 1},
 "encoding": {"x": {"field": "x", "type": "quantitative", "scale": {"domain": [-0.758, 20], "nice": false, "zero": false}, "axis": null}, "y": {"field": "y", "type": "quantitative", "scale": {"domain": [0, 8], "nice": false, "zero": false}, "axis": null}}},
{"data": {"name": "tr"}, "transform": [{"filter": "datum.p == 'b' && datum.s == 'VD1'"}], "mark": {"type": "line", "strokeWidth": 3, "clip": true},
 "encoding": {"x": {"field": "x", "type": "quantitative", "scale": {"domain": [-0.758, 20], "nice": false, "zero": false}, "axis": null}, "y": {"field": "y", "type": "quantitative", "scale": {"domain": [0, 8], "nice": false, "zero": false}, "axis": null}, "color": {"field": "s", "type": "nominal", "scale": {"domain": ["Ipri","VD1","VD2","VD3","VD4","Ipri_l","VD1_l","VD2_l","VD3_l","VD4_l","k"], "range": ["#1414cc","#a39a22","#e3197f","#22cf22","#1717d2","#2447b5","#a09828","#d81f80","#2fcb2f","#2145c0","#111111"]}, "legend": null}}},
{"data": {"name": "tr"}, "transform": [{"filter": "datum.p == 'b' && datum.s == 'VD2'"}], "mark": {"type": "line", "strokeWidth": 3, "clip": true},
 "encoding": {"x": {"field": "x", "type": "quantitative", "scale": {"domain": [-0.758, 20], "nice": false, "zero": false}, "axis": null}, "y": {"field": "y", "type": "quantitative", "scale": {"domain": [0, 8], "nice": false, "zero": false}, "axis": null}, "color": {"field": "s", "type": "nominal", "scale": {"domain": ["Ipri","VD1","VD2","VD3","VD4","Ipri_l","VD1_l","VD2_l","VD3_l","VD4_l","k"], "range": ["#1414cc","#a39a22","#e3197f","#22cf22","#1717d2","#2447b5","#a09828","#d81f80","#2fcb2f","#2145c0","#111111"]}, "legend": null}}},
{"data": {"name": "tr"}, "transform": [{"filter": "datum.p == 'b' && datum.s == 'VD3'"}], "mark": {"type": "line", "strokeWidth": 3, "clip": true},
 "encoding": {"x": {"field": "x", "type": "quantitative", "scale": {"domain": [-0.758, 20], "nice": false, "zero": false}, "axis": null}, "y": {"field": "y", "type": "quantitative", "scale": {"domain": [0, 8], "nice": false, "zero": false}, "axis": null}, "color": {"field": "s", "type": "nominal", "scale": {"domain": ["Ipri","VD1","VD2","VD3","VD4","Ipri_l","VD1_l","VD2_l","VD3_l","VD4_l","k"], "range": ["#1414cc","#a39a22","#e3197f","#22cf22","#1717d2","#2447b5","#a09828","#d81f80","#2fcb2f","#2145c0","#111111"]}, "legend": null}}},
{"data": {"name": "tr"}, "transform": [{"filter": "datum.p == 'b' && datum.s == 'VD4'"}], "mark": {"type": "line", "strokeWidth": 3, "clip": true},
 "encoding": {"x": {"field": "x", "type": "quantitative", "scale": {"domain": [-0.758, 20], "nice": false, "zero": false}, "axis": null}, "y": {"field": "y", "type": "quantitative", "scale": {"domain": [0, 8], "nice": false, "zero": false}, "axis": null}, "color": {"field": "s", "type": "nominal", "scale": {"domain": ["Ipri","VD1","VD2","VD3","VD4","Ipri_l","VD1_l","VD2_l","VD3_l","VD4_l","k"], "range": ["#1414cc","#a39a22","#e3197f","#22cf22","#1717d2","#2447b5","#a09828","#d81f80","#2fcb2f","#2145c0","#111111"]}, "legend": null}}},
{"data": {"name": "tr"}, "transform": [{"filter": "datum.p == 'b' && datum.s == 'Ipri'"}], "mark": {"type": "line", "strokeWidth": 3.5, "clip": true},
 "encoding": {"x": {"field": "x", "type": "quantitative", "scale": {"domain": [-0.758, 20], "nice": false, "zero": false}, "axis": null}, "y": {"field": "y", "type": "quantitative", "scale": {"domain": [0, 8], "nice": false, "zero": false}, "axis": null}, "color": {"field": "s", "type": "nominal", "scale": {"domain": ["Ipri","VD1","VD2","VD3","VD4","Ipri_l","VD1_l","VD2_l","VD3_l","VD4_l","k"], "range": ["#1414cc","#a39a22","#e3197f","#22cf22","#1717d2","#2447b5","#a09828","#d81f80","#2fcb2f","#2145c0","#111111"]}, "legend": null}}},
{"data": {"name": "ld"}, "transform": [{"filter": "datum.p == 'b'"}], "mark": {"type": "line", "strokeWidth": 1.6},
 "encoding": {"x": {"field": "x", "type": "quantitative", "scale": {"domain": [-0.758, 20], "nice": false, "zero": false}, "axis": null}, "y": {"field": "y", "type": "quantitative", "scale": {"domain": [0, 8], "nice": false, "zero": false}, "axis": null}, "detail": {"field": "id"}, "color": {"field": "s", "type": "nominal", "scale": {"domain": ["Ipri","VD1","VD2","VD3","VD4","Ipri_l","VD1_l","VD2_l","VD3_l","VD4_l","k"], "range": ["#1414cc","#a39a22","#e3197f","#22cf22","#1717d2","#2447b5","#a09828","#d81f80","#2fcb2f","#2145c0","#111111"]}, "legend": null}}},
{"data": {"name": "lb"}, "transform": [{"filter": "datum.p == 'b' && (datum.k == 'main' || datum.k == 'rest')"}], "mark": {"type": "text", "align": "left", "baseline": "alphabetic", "font": "Liberation Sans", "fontSize": 16, "fontWeight": "bold", "fontStyle": "italic"},
 "encoding": {"x": {"field": "x", "type": "quantitative", "scale": {"domain": [-0.758, 20], "nice": false, "zero": false}, "axis": null}, "y": {"field": "y", "type": "quantitative", "scale": {"domain": [0, 8], "nice": false, "zero": false}, "axis": null}, "text": {"field": "t"}, "color": {"field": "s", "type": "nominal", "scale": {"domain": ["Ipri","VD1","VD2","VD3","VD4","Ipri_l","VD1_l","VD2_l","VD3_l","VD4_l","k"], "range": ["#1414cc","#a39a22","#e3197f","#22cf22","#1717d2","#2447b5","#a09828","#d81f80","#2fcb2f","#2145c0","#111111"]}, "legend": null}}},
{"data": {"name": "lb"}, "transform": [{"filter": "datum.p == 'b' && datum.k == 'sub'"}], "mark": {"type": "text", "align": "left", "baseline": "alphabetic", "font": "Liberation Sans", "fontSize": 11, "fontWeight": "bold", "fontStyle": "italic"},
 "encoding": {"x": {"field": "x", "type": "quantitative", "scale": {"domain": [-0.758, 20], "nice": false, "zero": false}, "axis": null}, "y": {"field": "y", "type": "quantitative", "scale": {"domain": [0, 8], "nice": false, "zero": false}, "axis": null}, "text": {"field": "t"}, "color": {"field": "s", "type": "nominal", "scale": {"domain": ["Ipri","VD1","VD2","VD3","VD4","Ipri_l","VD1_l","VD2_l","VD3_l","VD4_l","k"], "range": ["#1414cc","#a39a22","#e3197f","#22cf22","#1717d2","#2447b5","#a09828","#d81f80","#2fcb2f","#2145c0","#111111"]}, "legend": null}}},
{"data": {"name": "lb"}, "transform": [{"filter": "datum.p == 'b' && (datum.k == 'imain' || datum.k == 'irest')"}], "mark": {"type": "text", "align": "left", "baseline": "alphabetic", "font": "Liberation Sans", "fontSize": 16, "fontStyle": "italic", "color": "#111111"},
 "encoding": {"x": {"field": "x", "type": "quantitative", "scale": {"domain": [-0.758, 20], "nice": false, "zero": false}, "axis": null}, "y": {"field": "y", "type": "quantitative", "scale": {"domain": [0, 8], "nice": false, "zero": false}, "axis": null}, "text": {"field": "t"}}},
{"data": {"name": "lb"}, "transform": [{"filter": "datum.p == 'b' && datum.k == 'isub'"}], "mark": {"type": "text", "align": "left", "baseline": "alphabetic", "font": "Liberation Sans", "fontSize": 11, "fontStyle": "italic", "color": "#111111"},
 "encoding": {"x": {"field": "x", "type": "quantitative", "scale": {"domain": [-0.758, 20], "nice": false, "zero": false}, "axis": null}, "y": {"field": "y", "type": "quantitative", "scale": {"domain": [0, 8], "nice": false, "zero": false}, "axis": null}, "text": {"field": "t"}}},
{"data": {"name": "lb"}, "transform": [{"filter": "datum.p == 'b' && datum.k == 'time'"}], "mark": {"type": "text", "align": "left", "baseline": "alphabetic", "font": "Liberation Sans", "fontSize": 18.5, "fontStyle": "italic", "color": "#111111"},
 "encoding": {"x": {"field": "x", "type": "quantitative", "scale": {"domain": [-0.758, 20], "nice": false, "zero": false}, "axis": null}, "y": {"field": "y", "type": "quantitative", "scale": {"domain": [0, 8], "nice": false, "zero": false}, "axis": null}, "text": {"field": "t"}}},
{"data": {"name": "lb"}, "transform": [{"filter": "datum.p == 'b' && datum.k == 'cap'"}], "mark": {"type": "text", "align": "center", "baseline": "alphabetic", "font": "Open Sans", "fontSize": 24, "color": "#333333"},
 "encoding": {"x": {"field": "x", "type": "quantitative", "scale": {"domain": [-0.758, 20], "nice": false, "zero": false}, "axis": null}, "y": {"field": "y", "type": "quantitative", "scale": {"domain": [0, 8], "nice": false, "zero": false}, "axis": null}, "text": {"field": "t"}}}
]
}
]
}
